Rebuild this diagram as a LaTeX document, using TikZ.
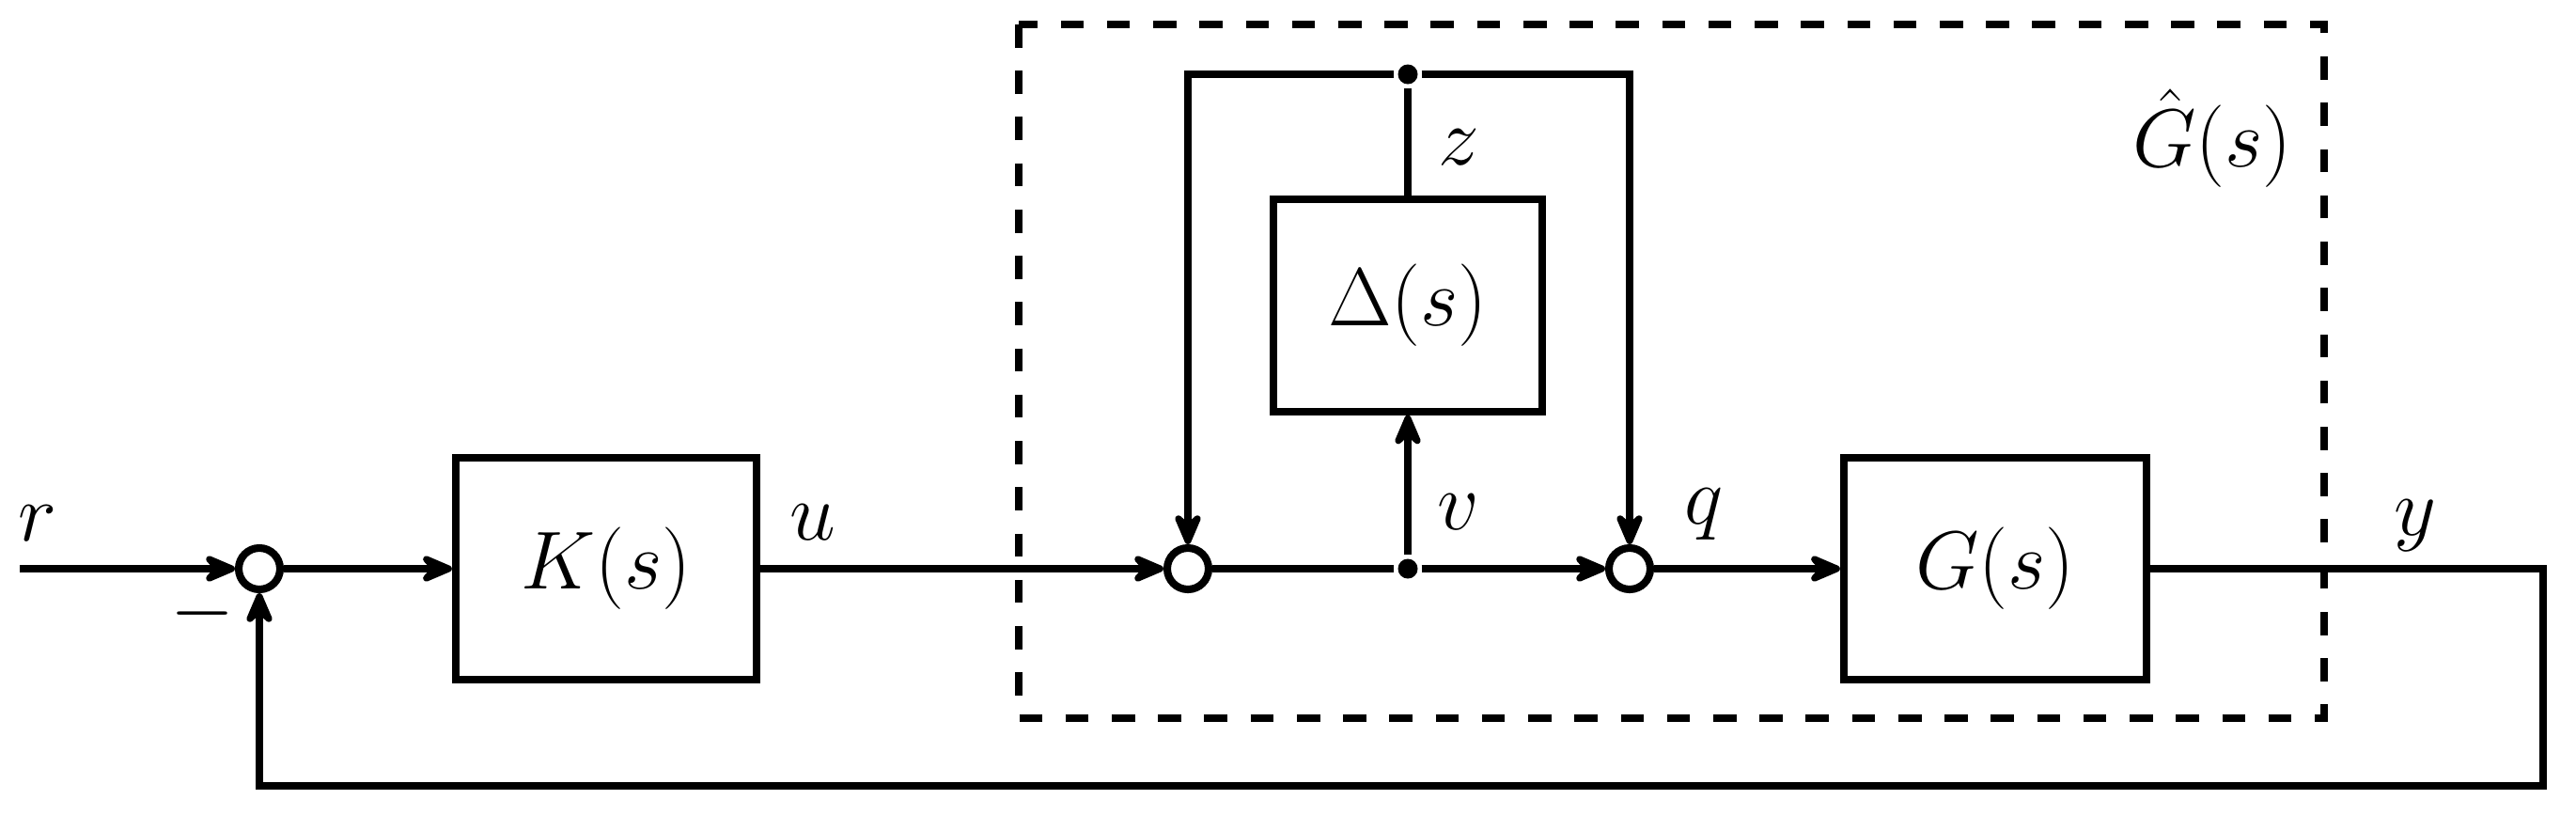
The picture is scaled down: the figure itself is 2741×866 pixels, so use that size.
\documentclass[tikz,border=0pt]{standalone}
\usetikzlibrary{arrows.meta}
\begin{document}
\begin{tikzpicture}[x=0.01cm,y=-0.01cm,line width=2.3pt,
  >={Stealth[length=13pt,width=11pt,inset=5pt,round]},
  every node/.style={font=\fontsize{24}{28}\selectfont},
  blk/.style={draw,rectangle,minimum width=3.2cm,minimum height=2.36cm,inner sep=0},
  sumj/.style={draw,circle,minimum size=0.44cm,inner sep=0,fill=white},
  dotj/.style={circle,fill,minimum size=0.21cm,inner sep=0},
  lbl/.style={inner sep=0},
  frame/.style={line width=2.1pt,dash pattern=on 7pt off 7pt}]
\useasboundingbox (0,0) rectangle (2741,866);
% frame
\draw[frame] (1084,26) rectangle (2473,764);
% nodes
\coordinate (rin) at (21,605);
\node[sumj] (s1) at (276,605) {};
\node[blk] (K) at (645,605) {$K(s)$};
\node[sumj] (s2) at (1264,605) {};
\node[dotj] (d1) at (1498,605) {};
\node[sumj] (s3) at (1734,605) {};
\node[blk,minimum width=2.85cm,minimum height=2.25cm] (D) at (1498,325) {$\Delta(s)$};
\node[dotj] (d2) at (1498,79) {};
\node[blk,minimum width=3.22cm] (G) at (2123,605) {$G(s)$};
\coordinate (c1) at (2706,605);
\coordinate (c2) at (2706,836);
% labels
\node[lbl] (lr) at (40,557) {$r$};
\node[lbl] (lm) at (216,653) {$-$};
\node[lbl] (lu) at (865,556) {$u$};
\node[lbl] (lz) at (1552,157) {$z$};
\node[lbl] (lv) at (1552,545) {$v$};
\node[lbl] (lq) at (1813,547) {$q$};
\node[lbl] (ly) at (2570,559) {$y$};
\node[lbl] (lG) at (2354,147) {$\hat{G}(s)$};
% connectors
\draw[->] (rin) -- (s1);
\draw[->] (s1) -- (K);
\draw[->] (K) -- (s2);
\draw (s2) -- (d1);
\draw[->] (d1) -- (s3);
\draw[->] (d1) -- (D);
\draw (D) -- (d2);
\draw[->] (d2) -| (s2);
\draw[->] (d2) -| (s3);
\draw[->] (s3) -- (G);
\draw[->] (G) -- (c1) -- (c2) -| (s1);
\end{tikzpicture}
\end{document}
